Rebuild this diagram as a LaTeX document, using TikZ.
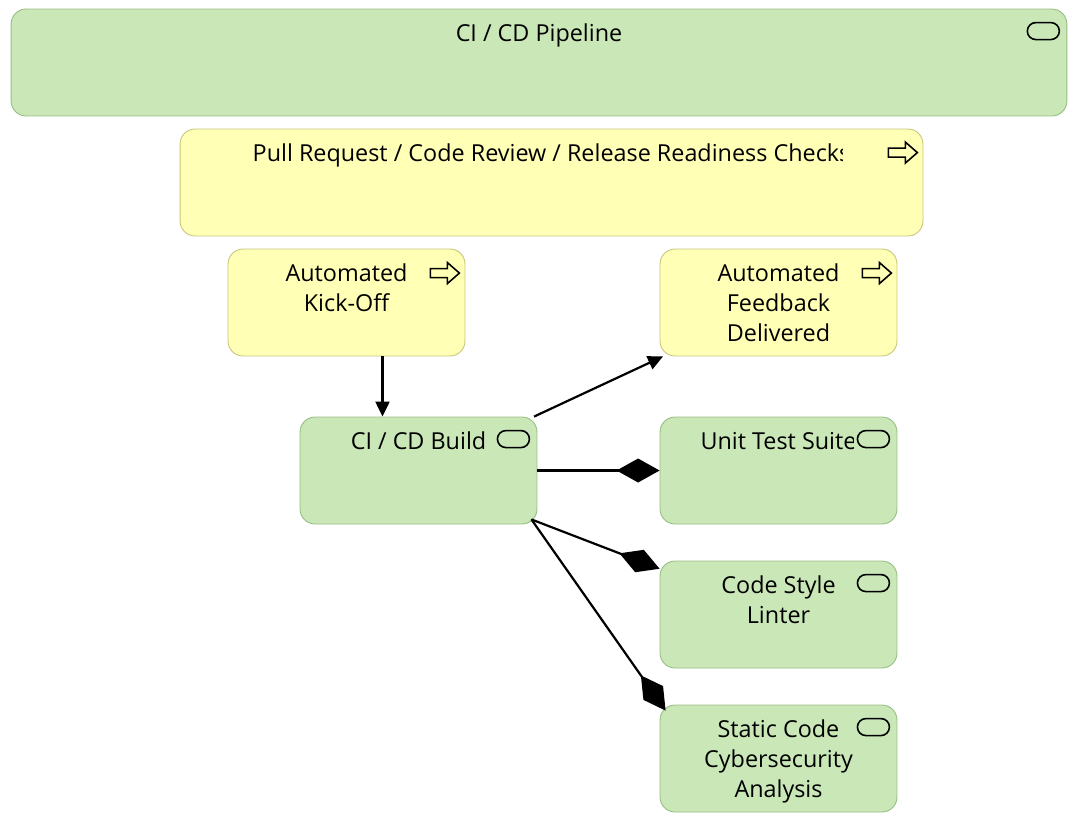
\documentclass[tikz,border=0pt]{standalone}
\usepackage{fontspec}
\setmainfont{Open Sans}
\usetikzlibrary{arrows.meta,calc}
\definecolor{techfill}{HTML}{C9E7B7}
\definecolor{techline}{HTML}{97BD84}
\definecolor{bizfill}{HTML}{FFFFB5}
\definecolor{bizline}{HTML}{C6C67A}

\begin{document}
\begin{tikzpicture}[x=0.02cm, y=-0.02cm,
    box/.style={draw, rounded corners=0.3cm, minimum width=4.74cm, minimum height=2.14cm, line width=0.5pt, inner sep=0pt},
    tech/.style={box, fill=techfill, draw=techline},
    biz/.style={box, fill=bizfill, draw=bizline},
    txt/.style={anchor=north, align=center, inner sep=0pt, font=\fontsize{13.3}{17}\selectfont},
    trig/.style={-{Triangle[length=0.3cm,width=0.28cm]}, line width=1.25pt},
    comp/.style={-{Diamond[length=0.86cm,width=0.48cm]}, line width=1.25pt},
    pics/svcicon/.style={code={\draw[line width=0.9pt, rounded corners=0.17cm] (0,0) rectangle (32,17);}},
    pics/procicon/.style={code={\draw[line width=0.9pt] (0,-4.5) -- (17,-4.5) -- (17,-10.5) -- (29,0) -- (17,10.5) -- (17,4.5) -- (0,4.5) -- cycle;}}]
    \useasboundingbox (0,0) rectangle (1078,829);

    \node[tech, minimum width=21.12cm] (pipe) at (539,62.5) {};
    \node[biz, minimum width=14.86cm] (pull) at (551.5,182.5) {};
    \node[biz] (kick) at (346.5,302.5) {};
    \node[biz] (fb) at (778.5,302.5) {};
    \node[tech] (build) at (418.5,470.5) {};
    \node[tech] (unit) at (778.5,470.5) {};
    \node[tech] (lint) at (778.5,614.5) {};
    \node[tech] (sca) at (778.5,758.5) {};

    \node[txt] (pipe-t) at ($(pipe.north)+(0,15)$) {CI / CD Pipeline};
    \begin{scope}
        \clip (180,129) rectangle (842,236);
        \node[txt] (pull-t) at ($(pull.north)+(0,15)$) {Pull Request / Code Review / Release Readiness Checks};
    \end{scope}
    \node[txt] (kick-t) at ($(kick.north)+(0,15)$) {Automated\\Kick-Off};
    \node[txt] (fb-t) at ($(fb.north)+(0,15)$) {Automated\\Feedback\\Delivered};
    \node[txt] (build-t) at ($(build.north)+(0,15)$) {CI / CD Build};
    \begin{scope}
        \clip (660,417) rectangle (853,524);
        \node[txt] (unit-t) at ($(unit.north)+(0,15)$) {Unit Test Suite};
    \end{scope}
    \node[txt] (lint-t) at ($(lint.north)+(0,15)$) {Code Style\\Linter};
    \node[txt] (sca-t) at ($(sca.north)+(0,15)$) {Static Code\\Cybersecurity\\Analysis};

    \pic at ($(pipe.north east)+(-40,14)$) {svcicon};
    \pic at ($(build.north east)+(-40,14)$) {svcicon};
    \pic at ($(unit.north east)+(-40,14)$) {svcicon};
    \pic at ($(lint.north east)+(-40,14)$) {svcicon};
    \pic at ($(sca.north east)+(-40,14)$) {svcicon};
    \pic at ($(pull.north east)+(-35,24)$) {procicon};
    \pic at ($(kick.north east)+(-35,24.5)$) {procicon};
    \pic at ($(fb.north east)+(-35,24.5)$) {procicon};

    \draw[trig] ($(kick.south)+(36,0)$) -- ($(build.north)+(-36,0)$);
    \draw[trig] (build) -- (fb);
    \draw[comp] (build) -- (unit);
    \draw[comp] ($(build.south east)+(-6,-5)$) -- (lint);
    \draw[comp] ($(build.south east)+(-6,-5)$) -- ($(sca.north west)+(6,6)$);
\end{tikzpicture}
\end{document}
